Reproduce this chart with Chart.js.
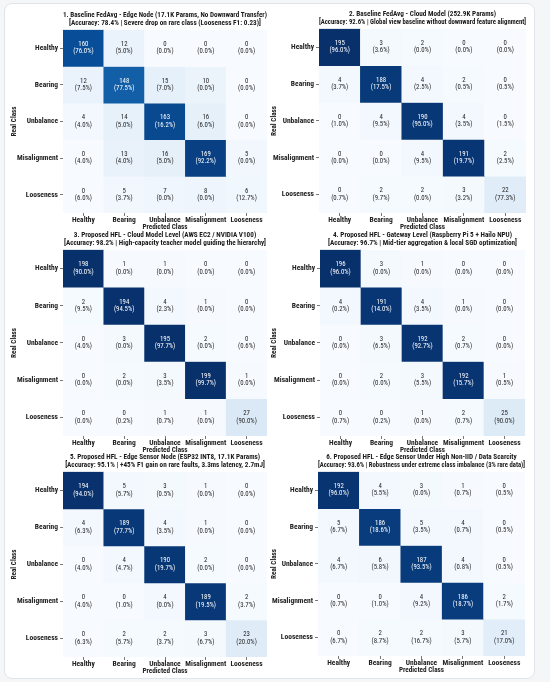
<!DOCTYPE html>
<html><head><meta charset="utf-8">
<script src="https://cdn.jsdelivr.net/npm/chart.js@4.4.1/dist/chart.umd.min.js"></script>
<style>
html,body{margin:0;padding:0;background:#f5f6f8;width:550px;height:682px;overflow:hidden;}
#card{position:absolute;left:4px;top:3px;width:529px;height:674px;background:#fff;border:1px solid #e1e4e8;border-radius:8px;}
canvas{position:absolute;}
</style></head><body>
<div id="card"></div>
<script>
// ---------- DATA ----------
const CLASSES = ['Healthy','Bearing','Unbalance','Misalignment','Looseness'];

const titles1 = ['1. Baseline FedAvg - Edge Node (17.1K Params, No Downward Transfer)','[Accuracy: 78.4% | Severe drop on rare class (Looseness F1: 0.23)]'];
const counts1 = [[160,12,0,0,0],[12,148,15,10,0],[4,14,163,16,0],[0,13,16,169,5],[0,5,7,8,6]];
const pct1 = [[76.0,5.0,0.0,0.0,0.0],[7.5,77.5,7.0,0.0,0.0],[4.0,5.0,16.2,6.0,0.0],[4.0,4.0,5.0,92.2,0.0],[6.0,3.7,0.0,0.0,12.7]];

const titles2 = ['2. Baseline FedAvg - Cloud Model (252.9K Params)','[Accuracy: 92.6% | Global view baseline without downward feature alignment]'];
const counts2 = [[195,3,2,0,0],[4,188,4,2,0],[0,4,190,4,0],[0,0,4,191,2],[0,2,2,3,22]];
const pct2 = [[96.0,3.6,0.0,0.0,0.0],[3.7,17.5,2.5,0.5,0.5],[1.0,9.5,95.0,3.5,1.5],[0.0,0.0,9.5,19.7,2.5],[0.7,9.7,0.0,3.2,77.3]];

const titles3 = ['3. Proposed HFL - Cloud Model Level (AWS EC2 / NVIDIA V100)','[Accuracy: 98.2% | High-capacity teacher model guiding the hierarchy]'];
const counts3 = [[198,1,1,0,0],[2,194,4,1,0],[0,3,195,2,0],[0,2,3,199,1],[0,0,1,1,27]];
const pct3 = [[90.0,0.0,0.0,0.0,0.0],[9.5,94.5,2.3,0.0,0.0],[4.0,0.0,97.7,0.0,0.6],[0.0,0.0,3.5,99.7,0.0],[0.0,0.2,0.7,0.0,90.0]];

const titles4 = ['4. Proposed HFL - Gateway Level (Raspberry Pi 5 + Hailo NPU)','[Accuracy: 96.7% | Mid-tier aggregation & local SGD optimization]'];
const counts4 = [[196,3,1,0,0],[4,191,4,1,0],[0,3,192,2,0],[0,2,3,192,1],[0,0,1,2,25]];
const pct4 = [[96.0,0.0,0.0,0.0,0.0],[0.2,14.0,3.5,0.0,0.0],[0.0,6.5,92.7,0.7,0.0],[0.0,0.0,5.5,15.7,0.5],[0.7,0.2,0.0,0.7,90.0]];

const titles5 = ['5. Proposed HFL - Edge Sensor Node (ESP32 INT8, 17.1K Params)','[Accuracy: 95.1% | +45% F1 gain on rare faults, 3.3ms latency, 2.7mJ]'];
const counts5 = [[194,5,3,1,0],[4,189,4,1,0],[0,4,190,2,0],[0,0,4,189,2],[0,2,2,3,23]];
const pct5 = [[94.0,5.7,0.5,0.0,0.0],[6.3,77.7,3.5,0.0,0.0],[4.0,4.7,19.7,0.0,0.0],[4.0,1.0,0.0,19.5,3.7],[6.3,5.7,3.7,6.7,20.0]];

const titles6 = ['6. Proposed HFL - Edge Sensor Under High Non-IID / Data Scarcity','[Accuracy: 93.6% | Robustness under extreme class imbalance (3% rare data)]'];
const counts6 = [[192,4,3,1,0],[5,186,5,4,0],[4,6,187,4,0],[0,0,4,186,2],[0,2,2,3,21]];
const pct6 = [[96.0,5.5,0.0,0.7,0.5],[6.7,18.6,3.5,0.7,0.5],[6.7,5.8,93.5,0.8,0.5],[0.7,1.0,9.2,18.7,1.7],[6.7,8.7,16.7,5.7,17.0]];

const colorMax = [180,195,195,195,195,195];

// ---------- LAYOUT / STYLE ----------
const FONT = '"Roboto Condensed", "Liberation Sans Narrow", sans-serif';
const PANELS = [
  {left:5,   right:275, gl:63,  gr:267, gt:30,  gb:213, ytPad:4.5},
  {left:268, right:535, gl:319, gr:526, gt:29,  gb:213, ytPad:1.5},
  {left:5,   right:275, gl:63,  gr:267, gt:250, gb:436, ytPad:4.5},
  {left:268, right:535, gl:320, gr:525, gt:250, gb:436, ytPad:1.5},
  {left:5,   right:275, gl:63,  gr:267, gt:472, gb:657, ytPad:4.5},
  {left:268, right:535, gl:318, gr:525, gt:472, gb:656, ytPad:1.5}
];
const TITLE_H = 22, XAXIS_H = 20;

const BLUES = ['#f7fbff','#deebf7','#c6dbef','#9ecae1','#6baed6','#4292c6','#2171b5','#08519c','#08306b'];
function hex2rgb(h){return [parseInt(h.slice(1,3),16),parseInt(h.slice(3,5),16),parseInt(h.slice(5,7),16)];}
function blues(t){
  t=Math.max(0,Math.min(1,t));
  const f=t*(BLUES.length-1), i=Math.min(Math.floor(f),BLUES.length-2), u=f-i;
  const a=hex2rgb(BLUES[i]), b=hex2rgb(BLUES[i+1]);
  return 'rgb('+a.map((v,k)=>Math.round(v+(b[k]-v)*u)).join(',')+')';
}

const cellText = {
  id:'cellText',
  afterDatasetsDraw(chart, args, opts){
    const ctx=chart.ctx;
    ctx.save();
    ctx.textAlign='center'; ctx.textBaseline='middle';
    chart.data.datasets.forEach((ds,r)=>{
      chart.getDatasetMeta(r).data.forEach((bar,c)=>{
        const p=bar.getProps(['x','y','base'],true);
        const cy=(p.y+p.base)/2;
        const v=opts.counts[r][c];
        ctx.fillStyle = (v/opts.vmax>0.45)?'#ffffff':'#262626';
        ctx.font='normal 6.8px '+FONT;
        ctx.fillText(String(v), p.x, cy-3.8);
        ctx.fillText('('+opts.pct[r][c].toFixed(1)+'%)', p.x, cy+3.5);
      });
    });
    ctx.restore();
  }
};

function makeChart(idx, titles, counts, pct){
  const L=PANELS[idx];
  const top=L.gt-TITLE_H, h=(L.gb-L.gt)+TITLE_H+XAXIS_H, w=L.right-L.left;
  const cv=document.createElement('canvas');
  cv.width=w; cv.height=h;
  cv.style.left=L.left+'px'; cv.style.top=top+'px';
  cv.style.width=w+'px'; cv.style.height=h+'px';
  document.body.appendChild(cv);
  const vmax=colorMax[idx];
  const tickFont={family:FONT, weight:'bold', size:7.5};
  const titleFont={family:FONT, weight:'bold', size:7.2, lineHeight:1.2};
  new Chart(cv,{
    type:'bar',
    data:{
      labels:CLASSES,
      datasets:counts.map((row,r)=>({
        data:row.map(()=>[r,r+1]),
        backgroundColor:row.map(v=>blues(v/vmax)),
        borderWidth:0, borderSkipped:false,
        grouped:false, barPercentage:1, categoryPercentage:1
      }))
    },
    options:{
      responsive:false, animation:false,
      layout:{padding:{left:0,right:L.right-L.gr,top:0,bottom:0}},
      plugins:{
        legend:{display:false}, tooltip:{enabled:false},
        title:{display:true, fullSize:false, text:titles, color:'#1a1a1a',
          font:{family:FONT, weight:'bold', size:7.2, lineHeight:1.1}, padding:{top:3,bottom:3}},
        cellText:{counts, pct, vmax}
      },
      scales:{
        x:{type:'category', offset:true,
          grid:{offset:false, drawOnChartArea:false, drawTicks:true, tickLength:3, color:'#555', lineWidth:0.8},
          border:{display:false},
          ticks:{font:tickFont, color:'#222', padding:0, maxRotation:0, autoSkip:false},
          title:{display:true, text:'Predicted Class', color:'#222', font:titleFont, padding:{top:0,bottom:1}},
          afterFit:(s)=>{s.height=XAXIS_H;}
        },
        y:{type:'linear', min:0, max:5, reverse:true,
          afterBuildTicks:(s)=>{s.ticks=CLASSES.map((_,i)=>({value:i+0.5}));},
          grid:{drawOnChartArea:false, drawTicks:true, tickLength:3, color:'#555', lineWidth:0.8},
          border:{display:false},
          ticks:{font:tickFont, color:'#222', padding:2, callback:(v,i)=>CLASSES[i]},
          title:{display:true, text:'Real Class', color:'#222', font:titleFont, padding:{top:L.ytPad,bottom:0}},
          afterFit:(s)=>{s.width=L.gl-L.left;}
        }
      }
    },
    plugins:[cellText]
  });
}

makeChart(0,titles1,counts1,pct1);
makeChart(1,titles2,counts2,pct2);
makeChart(2,titles3,counts3,pct3);
makeChart(3,titles4,counts4,pct4);
makeChart(4,titles5,counts5,pct5);
makeChart(5,titles6,counts6,pct6);
</script>
</body></html>
